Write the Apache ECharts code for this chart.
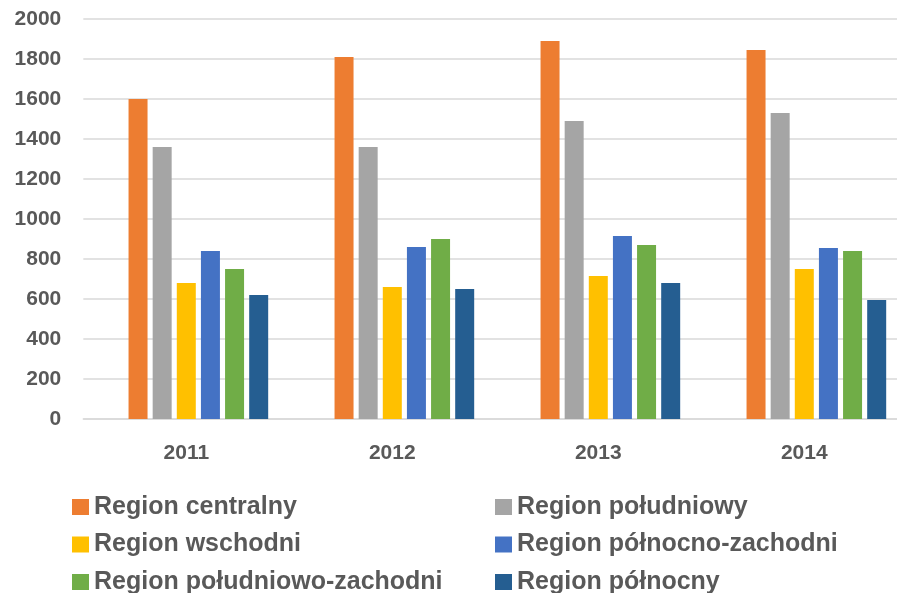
<!DOCTYPE html>
<html>
<head>
<meta charset="utf-8">
<script src="https://cdn.jsdelivr.net/npm/echarts@6/dist/echarts.min.js"></script>
<style>
  html, body { margin: 0; padding: 0; background: #fff; }
  #chart { width: 897px; height: 593px; }
</style>
</head>
<body>
<div id="chart"></div>
<script>
// lata
var years = ['2011', '2012', '2013', '2014'];

// wartości dla regionów
var centralny = [1600, 1810, 1890, 1845];
var poludniowy = [1360, 1360, 1490, 1530];
var wschodni = [680, 660, 715, 750];
var polnocnoZachodni = [840, 860, 915, 855];
var poludniowoZachodni = [750, 900, 870, 840];
var polnocny = [620, 650, 680, 595];

var yTicks = [0, 200, 400, 600, 800, 1000, 1200, 1400, 1600, 1800, 2000];

var names = ['Region centralny', 'Region południowy', 'Region wschodni',
    'Region północno-zachodni', 'Region południowo-zachodni', 'Region północny'];
var values = [centralny, poludniowy, wschodni, polnocnoZachodni, poludniowoZachodni, polnocny];
var colors = ['#ED7D31', '#A5A5A5', '#FFC000', '#4472C4', '#70AD47', '#255E91'];

var font = 'Liberation Sans';
var txt = '#595959';

var chart = echarts.init(document.getElementById('chart'), null, {renderer: 'canvas'});

// pusta seria na początku grupy (jak w arkuszu) - zajmuje miejsce słupka
var series = [{
    name: 'puste', type: 'bar', data: [], barWidth: 19, barGap: '27%'
}];
for (var i = 0; i < names.length; i++) {
    series.push({
        name: names[i],
        type: 'bar',
        data: values[i],
        barWidth: 19,
        barGap: '27%',
        itemStyle: {color: colors[i]}
    });
}

// legenda: trzy wiersze po dwie pozycje, stała szerokość tekstu = kolumny
var legendTops = [494, 531.5, 569];
var legends = [];
for (var r = 0; r < 3; r++) {
    legends.push({
        data: [names[2 * r], names[2 * r + 1]],
        orient: 'horizontal', left: 72, top: legendTops[r], width: 1000, height: 26,
        padding: 0,
        icon: 'rect', itemWidth: 17, itemHeight: 16, itemGap: 0,
        textStyle: {fontFamily: font, fontWeight: 'bold', fontSize: 25, color: txt,
            lineHeight: 26, width: 401},
        selectedMode: false
    });
}

chart.setOption({
    animation: false,
    grid: {left: 83.3, right: -10.3, top: 19, bottom: 174, containLabel: false, outerBoundsMode: 'none'},
    legend: legends,
    xAxis: {
        type: 'category',
        data: years,
        axisLine: {lineStyle: {color: '#D9D9D9', width: 1.5}},
        axisTick: {show: false},
        axisLabel: {fontFamily: font, fontWeight: 'bold', fontSize: 21, color: txt, margin: 24}
    },
    yAxis: {
        type: 'value',
        min: yTicks[0],
        max: yTicks[yTicks.length - 1],
        interval: yTicks[1] - yTicks[0],
        axisLine: {show: false},
        axisTick: {show: false},
        splitLine: {lineStyle: {color: '#D9D9D9', width: 1.5}},
        axisLabel: {
            fontFamily: font, fontWeight: 'bold', fontSize: 21, color: txt, margin: 22,
            formatter: function (v) { return String(v); }
        }
    },
    series: series
});
</script>
</body>
</html>
